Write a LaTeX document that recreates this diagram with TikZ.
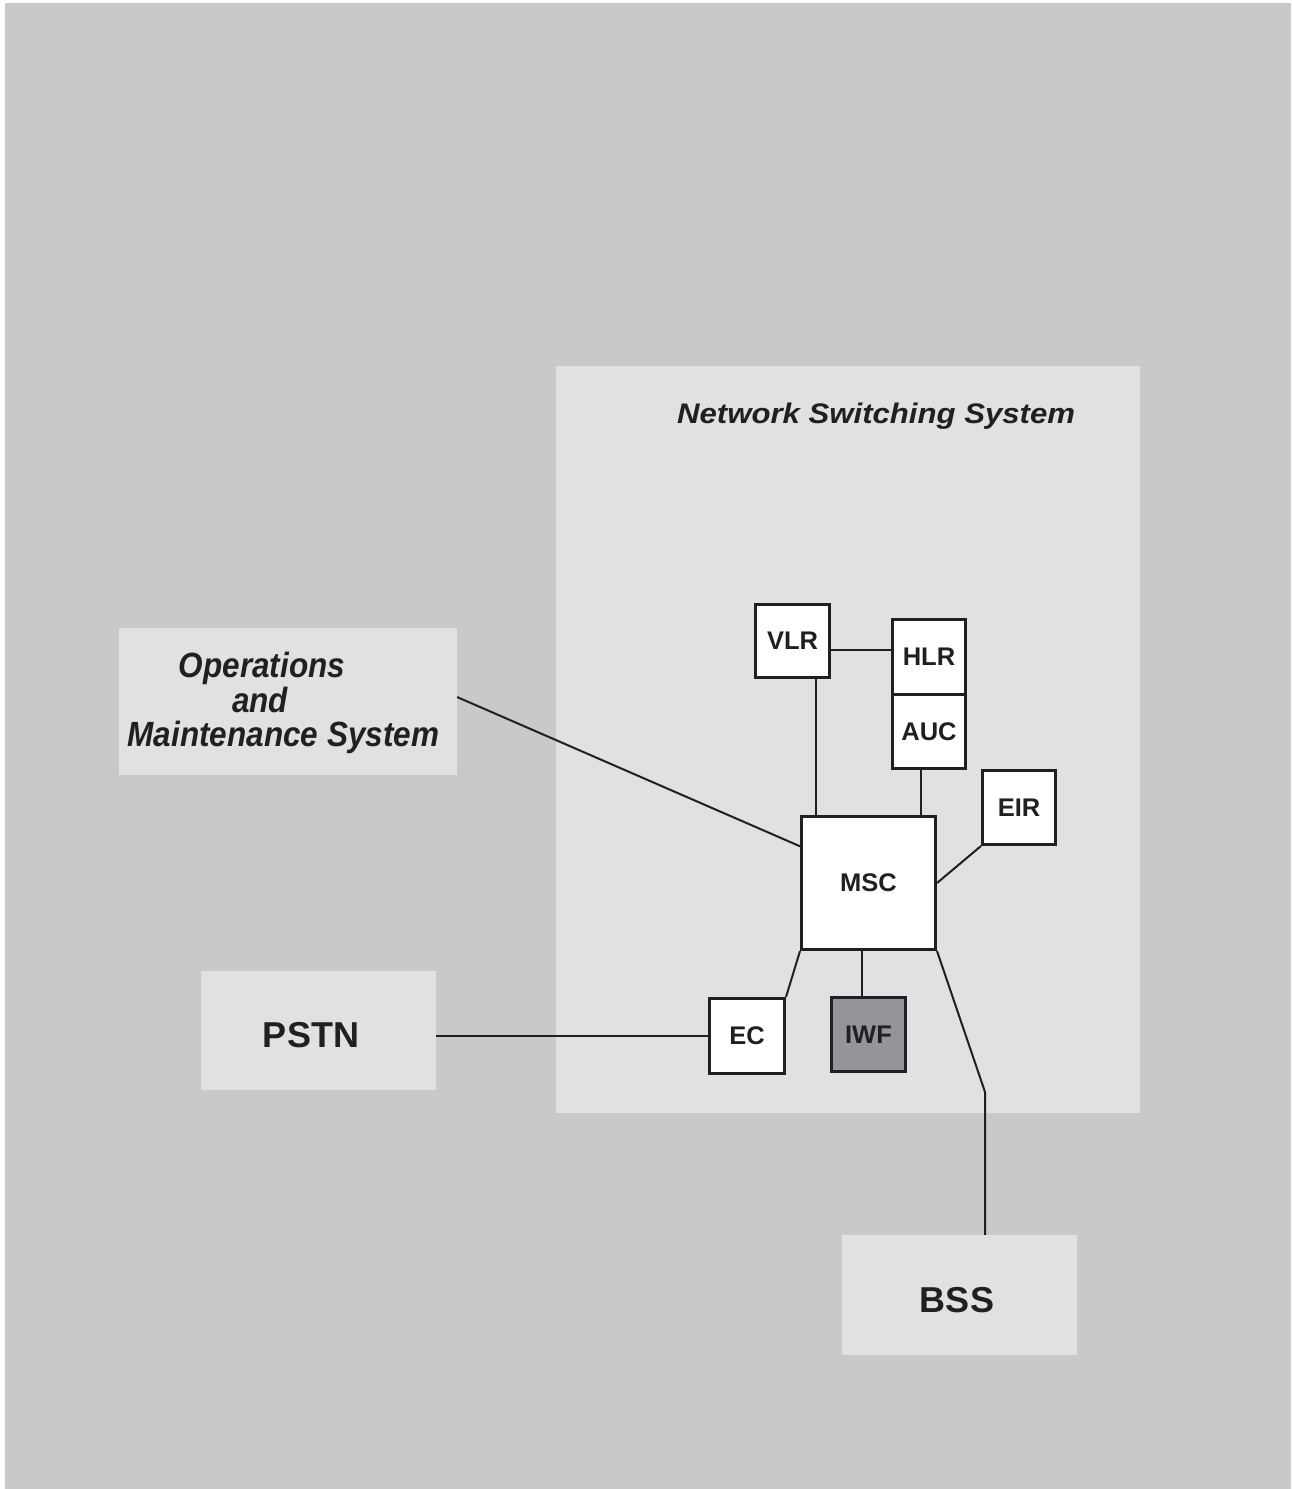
\documentclass[tikz,border=0pt]{standalone}
\usepackage{fontspec}
\setmainfont{Liberation Sans}
\usetikzlibrary{calc}
\definecolor{outergrey}{RGB}{200,201,203}
\definecolor{innergrey}{RGB}{224,225,227}
\definecolor{darkgrey}{RGB}{147,149,152}
\definecolor{ink}{RGB}{35,31,32}
\tikzset{
  elem/.style={draw=ink, line width=3pt, fill=white, inner sep=0pt, text=ink,
    font=\bfseries\fontsize{25.5}{30}\selectfont},
  area/.style={fill=innergrey, inner sep=0pt, text=ink},
  bigtxt/.style={inner sep=0pt, text=ink, font=\bfseries\fontsize{36}{42}\selectfont},
  omstxt/.style={anchor=base, inner sep=0pt, text=ink},
  conn/.style={draw=ink, line width=2pt},
}
\newcommand{\omsline}[1]{\scalebox{0.9}[1]{\fontsize{35}{40}\selectfont\bfseries\itshape #1}}
\begin{document}
\begin{tikzpicture}[x=1pt,y=-1pt]
\useasboundingbox (0,0) rectangle (1292,1489);
\fill[white] (0,0) rectangle (1292,1489);
\fill[outergrey] (5,3) rectangle (1291,1489);
% grey areas
\node[area, minimum width=584pt, minimum height=747pt] (nss) at (848,739.5) {};
\node[area, minimum width=338pt, minimum height=147pt] (oms) at (288,701.5) {};
\node[area, minimum width=235pt, minimum height=119pt] (pstn) at (318.5,1030.5) {};
\node[area, minimum width=235pt, minimum height=120pt] (bss) at (959.5,1295) {};
% texts
\node[bigtxt] (pstnlabel) at (311,1035) {PSTN};
\node[bigtxt] (bsslabel) at (957,1300) {BSS};
\node[anchor=base west, inner sep=0pt, text=ink] (title) at (677,423)
  {\scalebox{1.1}[1]{\fontsize{28.3}{33}\selectfont\bfseries\itshape Network Switching System}};
\node[omstxt] (oms1) at (262,677) {\omsline{Operations}};
\node[omstxt] (oms2) at (260,712) {\omsline{and}};
\node[omstxt] (oms3) at (283.5,746) {\omsline{Maintenance System}};
% elements
\node[elem, minimum width=74pt, minimum height=73pt] (vlr) at (792.5,641) {VLR};
\node[elem, minimum width=73pt, minimum height=74.5pt] (hlr) at (929,656.75) {HLR};
\node[elem, minimum width=73pt, minimum height=74.5pt] (auc) at (929,731.25) {AUC};
\node[elem, minimum width=73pt, minimum height=74pt] (eir) at (1019,807.5) {EIR};
\node[elem, minimum width=134pt, minimum height=133pt] (msc) at (868.5,883) {MSC};
\node[elem, minimum width=75pt, minimum height=75pt] (ec) at (747,1036) {EC};
\node[elem, fill=darkgrey, minimum width=74pt, minimum height=74pt] (iwf) at (868.5,1034.5) {IWF};
\coordinate (bend) at (985,1092);
% connectors
\draw[conn] ($(oms.north east)!0.47!(oms.south east)$) -- ($(msc.north west)!0.23!(msc.south west)$);
\draw[conn] ($(vlr.south west)!0.8!(vlr.south east)$) coordinate (v1) -- (v1 |- msc.north);
\draw[conn] ([yshift=-9pt]vlr.east) coordinate (v2) -- (v2 -| hlr.west);
\draw[conn] ([xshift=-8pt]auc.south) coordinate (a1) -- (a1 |- msc.north);
\draw[conn] (eir.south west) -- (msc.east);
\draw[conn] (msc.south west) -- (ec.north east);
\draw[conn] ([xshift=-6.5pt]msc.south) coordinate (m1) -- (m1 |- iwf.north);
\draw[conn] (msc.south east) -- (bend) -- (bend |- bss.north);
\draw[conn] (ec.west -| pstn.east) -- (ec.west);
\end{tikzpicture}
\end{document}
